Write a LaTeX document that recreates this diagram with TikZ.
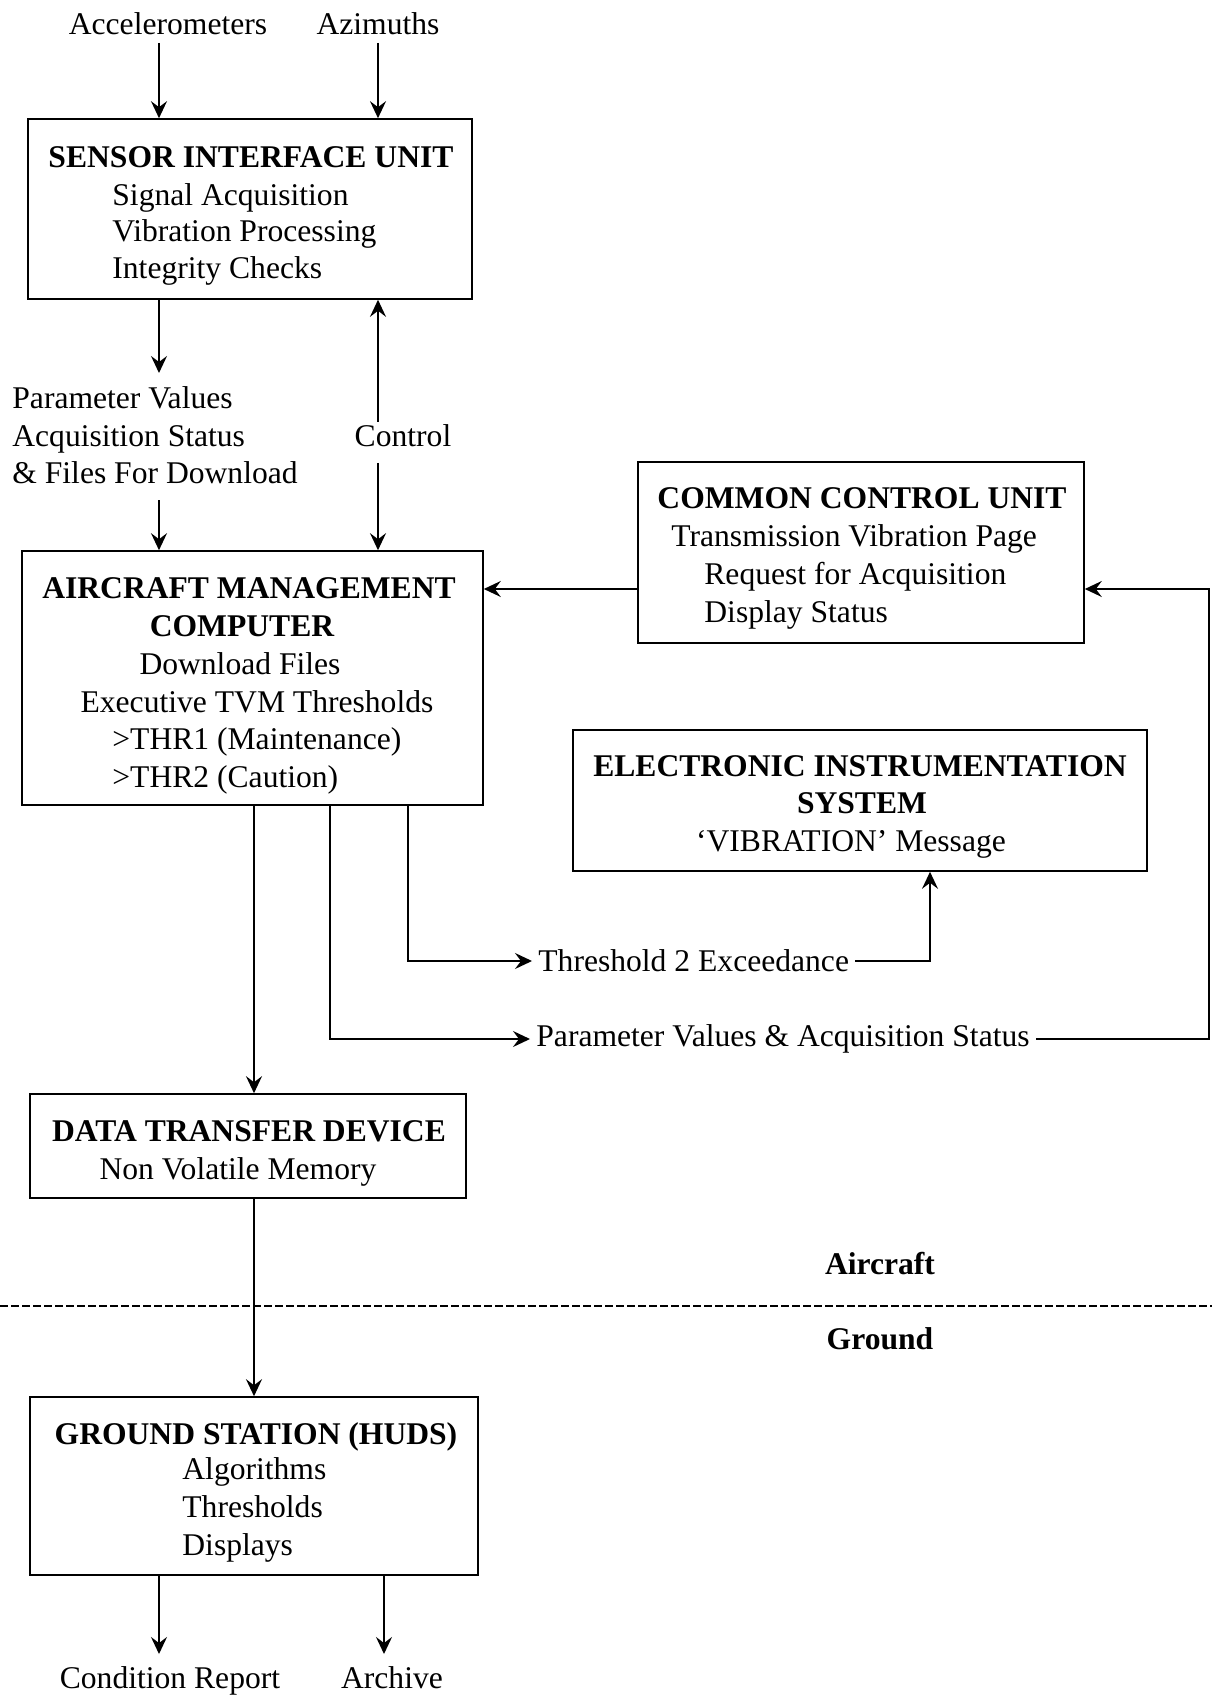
\documentclass[tikz,border=0pt]{standalone}
\usepackage{fontspec}
\setmainfont{Liberation Serif}
\usetikzlibrary{arrows.meta,fit}
\begin{document}
\begin{tikzpicture}[x=0.5pt,y=-0.5pt,
  every node/.style={font=\fontsize{15.8}{19}\selectfont},
  box/.style={draw, line width=0.8pt, inner sep=0pt},
  txt/.style={inner sep=0pt, anchor=base},
  txtl/.style={inner sep=0pt, anchor=base west},
  ttl/.style={inner sep=0pt, anchor=base, font=\fontsize{15.8}{19}\selectfont\bfseries},
  lbl/.style={inner xsep=3pt, inner ysep=0pt, anchor=west},
  conn/.style={line width=0.8pt},
  arr/.style={conn, -{Stealth[length=8.5pt,width=8pt,inset=3pt]}},
]
\useasboundingbox (0,0) rectangle (1212,1695);

% inputs
\node[txt] (acc) at (168,35) {Accelerometers};
\node[txt] (azi) at (378,35) {Azimuths};

% sensor interface unit
\node[box, fit={(28,119) (472,299)}] (siu) {};
\node[ttl] (siut) at (251,168) {SENSOR INTERFACE UNIT};
\node[txtl] (siu1) at (112,206) {Signal Acquisition};
\node[txtl] (siu2) at (112,242) {Vibration Processing};
\node[txtl] (siu3) at (112,279) {Integrity Checks};

% middle labels
\node[txtl] (pv1) at (12,409) {Parameter Values};
\node[txtl] (pv2) at (12,447) {Acquisition Status};
\node[txtl] (pv3) at (12,483) {\& Files For Download};
\node[txt] (ctl) at (403,447) {Control};

% aircraft management computer
\node[box, fit={(22,551) (483,805)}] (amc) {};
\node[ttl] (amct1) at (249,598) {AIRCRAFT MANAGEMENT};
\node[ttl] (amct2) at (242,636) {COMPUTER};
\node[txt] (amc1) at (240,674) {Download Files};
\node[txt] (amc2) at (257,712) {Executive TVM Thresholds};
\node[txtl] (amc3) at (112,749) {>THR1 (Maintenance)};
\node[txtl] (amc4) at (112,787) {>THR2 (Caution)};

% common control unit
\node[box, fit={(638,462) (1084,643)}] (ccu) {};
\node[ttl] (ccut) at (862,508) {COMMON CONTROL UNIT};
\node[txtl] (ccu1) at (671,546) {Transmission Vibration Page};
\node[txtl] (ccu2) at (704,584) {Request for Acquisition};
\node[txtl] (ccu3) at (704,622) {Display Status};

% electronic instrumentation system
\node[box, fit={(573,730) (1147,871)}] (eis) {};
\node[ttl] (eist1) at (860,776) {ELECTRONIC INSTRUMENTATION};
\node[ttl] (eist2) at (862,813) {SYSTEM};
\node[txt] (eis1) at (851,851) {`VIBRATION' Message};

% data transfer device
\node[box, fit={(30,1094) (466,1198)}] (dtd) {};
\node[ttl] (dtdt) at (249,1141) {DATA TRANSFER DEVICE};
\node[txt] (dtd1) at (238,1179) {Non Volatile Memory};

% aircraft / ground
\node[ttl] (air) at (880,1274) {Aircraft};
\node[ttl] (gnd) at (880,1349) {Ground};
\coordinate (dl) at (0,1306);
\coordinate (dr) at (1212,1306);
\draw[conn, dash pattern=on 4pt off 1.5pt] (dl) -- (dr);

% ground station
\node[box, fit={(30,1397) (478,1575)}] (gs) {};
\node[ttl] (gst) at (256,1444) {GROUND STATION (HUDS)};
\node[txtl] (gs1) at (182,1479) {Algorithms};
\node[txtl] (gs2) at (182,1517) {Thresholds};
\node[txtl] (gs3) at (182,1555) {Displays};

\node[txt] (cr) at (170,1688) {Condition Report};
\node[txt] (arch) at (392,1688) {Archive};

% connectors
\coordinate (ka) at (159,43);
\coordinate (kb) at (378,43);
\draw[arr] (ka) -- (ka |- siu.north);
\draw[arr] (kb) -- (kb |- siu.north);
\coordinate (kc) at (159,373);
\draw[arr] (kc |- siu.south) -- (kc);
\coordinate (kd) at (378,422);
\draw[arr] (kd) -- (kd |- siu.south);
\coordinate (ke) at (159,500);
\draw[arr] (ke) -- (ke |- amc.north);
\coordinate (kf) at (378,463);
\draw[arr] (kf) -- (kf |- amc.north);

\coordinate (kg) at (0,589);
\draw[arr] (ccu.west |- kg) -- (amc.east |- kg);

\node[lbl] (t2) at (532,961) {Threshold 2 Exceedance};
\coordinate (kh) at (408,961);
\draw[arr] (kh |- amc.south) -- (kh) -- (t2.west);
\coordinate (ki) at (930,961);
\draw[arr] (t2.east) -- (ki) -- (ki |- eis.south);

\node[lbl] (pvs) at (530,1039) {Parameter Values \& Acquisition Status};
\coordinate (kj) at (330,1039);
\draw[arr] (kj |- amc.south) -- (kj) -- (pvs.west);
\coordinate (kk) at (1209,1039);
\draw[arr] (pvs.east) -- (kk) -- (kk |- kg) -- (ccu.east |- kg);

\coordinate (kl) at (254,0);
\draw[arr] (kl |- amc.south) -- (kl |- dtd.north);
\draw[arr] (kl |- dtd.south) -- (kl |- gs.north);

\coordinate (km) at (159,1654);
\coordinate (kn) at (384,1654);
\draw[arr] (km |- gs.south) -- (km);
\draw[arr] (kn |- gs.south) -- (kn);
\end{tikzpicture}
\end{document}
